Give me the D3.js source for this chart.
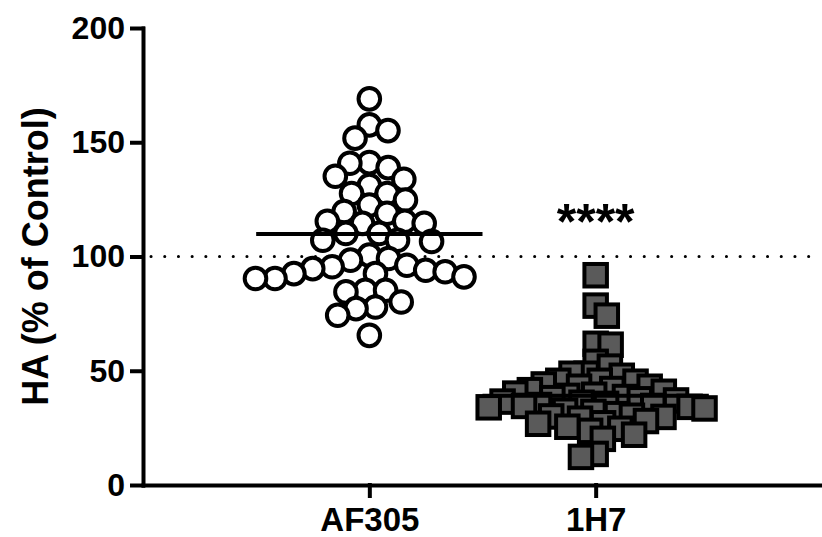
<!DOCTYPE html>
<html>
<head>
<meta charset="utf-8">
<script src="https://cdn.jsdelivr.net/npm/d3@7"></script>
<style>
    body { margin: 0; background: #fff; }
    text { font-family: "Liberation Sans", Arial, sans-serif; font-weight: bold; }
</style>
</head>
<body>
<div id="chart"></div>
<script>
// categories and the values (HA, % of control)
const categories = ['AF305', '1H7'];
const af305Values = [
    169.0, 157.6, 155.1, 151.8, 141.1, 140.8, 138.9, 135.1, 133.8, 131.1,
    127.6, 127.6, 124.7, 122.5, 118.9, 119.7, 115.4, 114.5, 115.4, 114.5,
    110.1, 110.1, 106.6, 107.1, 107.1, 100.6, 99.1, 98.4, 96.2, 93.3,
    94.7, 95.5, 90.4, 92.5, 94.0, 90.4, 92.5, 91.1, 84.5, 85.2,
    85.2, 77.2, 74.3, 77.9, 80.1, 65.5,
];
const h7Values = [
    91.8, 78.5, 74.1, 61.4, 61.8, 53.9, 51.8, 48.7, 48.7, 47.8,
    45.6, 45.6, 45.2, 44.0, 43.0, 43.0, 42.0, 41.5, 40.8, 40.0,
    39.5, 39.0, 38.5, 38.0, 37.5, 37.0, 36.5, 36.0, 35.5, 35.0,
    34.6, 34.6, 34.2, 34.0, 33.5, 32.5, 32.0, 31.0, 30.3, 30.0,
    29.8, 29.0, 28.0, 27.0, 26.8, 25.5, 24.6, 23.7, 22.0, 20.2,
    13.6, 12.3,
];
const yTicks = [0, 50, 100, 150, 200];
const controlLevel = 100;
const significance = '****';
const yTitle = 'HA (% of Control)';

const W = 822, H = 537;
const margin = {top: 28, right: 0, bottom: 52, left: 143};
const width = W - margin.left - margin.right;
const height = H - margin.top - margin.bottom;

const svg = d3.select('#chart').append('svg')
    .attr('width', W)
    .attr('height', H)
    .attr('viewBox', `0 0 ${W} ${H}`);

const g = svg.append('g')
    .attr('transform', `translate(${margin.left},${margin.top})`);

const x = d3.scalePoint().domain(categories).range([0, width]).padding(1);
const y = d3.scaleLinear().domain([0, 200]).range([height, 0]);

// greedy beeswarm: each point goes as close to the category centre as it can
function swarm(values, diameter) {
    const nodes = values.map(v => ({v, py: y(v), dx: 0})).sort((a, b) => a.py - b.py);
    const placed = [];
    nodes.forEach((n, i) => {
        const near = placed.filter(p => Math.abs(p.py - n.py) < diameter);
        const cands = [0];
        near.forEach(p => {
            const h = Math.sqrt(diameter * diameter - (p.py - n.py) ** 2);
            cands.push(p.dx - h, p.dx + h);
        });
        const ok = cands.filter(c => near.every(p => (c - p.dx) ** 2 + (p.py - n.py) ** 2 >= diameter * diameter - 0.01));
        ok.sort((a, b) => Math.abs(a) - Math.abs(b) || (i % 2 ? a - b : b - a));
        n.dx = ok[0];
        placed.push(n);
    });
    return nodes;
}

// dotted control line at 100%
g.append('line')
    .attr('x1', 8).attr('x2', width)
    .attr('y1', y(controlLevel)).attr('y2', y(controlLevel))
    .attr('stroke', '#000')
    .attr('stroke-width', 3)
    .attr('stroke-linecap', 'round')
    .attr('stroke-dasharray', '0.1 13.6');

// AF305: open circles
g.append('g').selectAll('circle')
    .data(swarm(af305Values, 19.5))
    .enter().append('circle')
    .attr('cx', d => x('AF305') + d.dx)
    .attr('cy', d => d.py)
    .attr('r', 10.8)
    .attr('fill', '#fff')
    .attr('stroke', '#000')
    .attr('stroke-width', 4);

// 1H7: grey squares
const side = 22.5;
g.append('g').selectAll('rect')
    .data(swarm(h7Values, 15))
    .enter().append('rect')
    .attr('x', d => x('1H7') + d.dx - side / 2)
    .attr('y', d => d.py - side / 2)
    .attr('width', side)
    .attr('height', side)
    .attr('fill', '#5a5a5a')
    .attr('stroke', '#000')
    .attr('stroke-width', 4);

// mean lines
const half = x.step() * 0.5;
[['AF305', af305Values], ['1H7', h7Values]].forEach(([cat, vals]) => {
    const m = d3.mean(vals);
    g.append('line')
        .attr('x1', x(cat) - half).attr('x2', x(cat) + half)
        .attr('y1', y(m)).attr('y2', y(m))
        .attr('stroke', '#000')
        .attr('stroke-width', 4);
});

// axes
g.append('g')
    .attr('class', 'yaxis')
    .call(d3.axisLeft(y).tickValues(yTicks).tickSize(11).tickSizeOuter(0).tickPadding(7));
g.append('g')
    .attr('class', 'xaxis')
    .attr('transform', `translate(0,${height})`)
    .call(d3.axisBottom(x).tickSize(11).tickSizeOuter(0).tickPadding(12));

svg.selectAll('.yaxis path, .yaxis line, .xaxis path, .xaxis line')
    .attr('stroke', '#000')
    .attr('stroke-width', 4)
    .attr('stroke-linecap', 'square');
svg.selectAll('.yaxis text')
    .attr('fill', '#000')
    .attr('font-size', 32)
    .attr('font-family', '"Liberation Sans", Arial, sans-serif')
    .attr('font-weight', 'bold');
svg.selectAll('.xaxis text')
    .attr('fill', '#000')
    .attr('font-size', 33)
    .attr('font-family', '"Liberation Sans", Arial, sans-serif')
    .attr('font-weight', 'bold');

// significance stars over 1H7
g.append('text')
    .attr('x', x('1H7'))
    .attr('y', y(controlLevel) - 18)
    .attr('text-anchor', 'middle')
    .attr('font-size', 50)
    .text(significance);

// y title
svg.append('text')
    .attr('transform', `translate(48,${margin.top + height / 2}) rotate(-90)`)
    .attr('text-anchor', 'middle')
    .attr('font-size', 36)
    .text(yTitle);
</script>
</body>
</html>
